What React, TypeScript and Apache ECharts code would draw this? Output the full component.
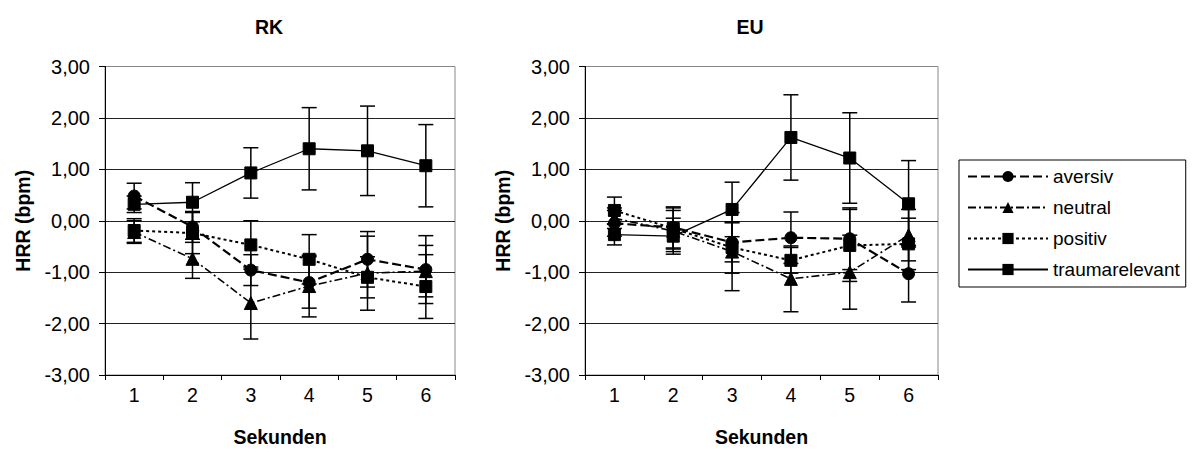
import React, { useEffect, useRef } from "react";
import * as echarts from "echarts";

const categories = ["1", "2", "3", "4", "5", "6"];
const seriesNames = ["aversiv", "neutral", "positiv", "traumarelevant"];
const chartTitles = ["RK", "EU"];
const yTicks = [-3, -2, -1, 0, 1, 2, 3];

// RK
const rkAversiv = [0.48, -0.12, -0.96, -1.2, -0.75, -0.95];
const rkAversivErr = [0.25, 0.3, 0.3, 0.5, 0.54, 0.66];
const rkNeutral = [-0.22, -0.74, -1.6, -1.27, -1.02, -0.98];
const rkNeutralErr = [0.22, 0.38, 0.7, 0.6, 0.72, 0.5];
const rkPositiv = [-0.19, -0.24, -0.47, -0.75, -1.1, -1.28];
const rkPositivErr = [0.23, 0.4, 0.47, 0.48, 0.4, 0.62];
const rkTrauma = [0.32, 0.36, 0.93, 1.4, 1.36, 1.07];
const rkTraumaErr = [0.16, 0.38, 0.49, 0.8, 0.87, 0.8];

// EU
const euAversiv = [-0.05, -0.13, -0.42, -0.33, -0.35, -1.03];
const euAversivErr = [0.25, 0.4, 0.38, 0.5, 0.6, 0.55];
const euNeutral = [0.05, -0.2, -0.6, -1.13, -1.0, -0.28];
const euNeutralErr = [0.2, 0.4, 0.76, 0.64, 0.72, 0.5];
const euPositiv = [0.2, -0.15, -0.52, -0.77, -0.48, -0.45];
const euPositivErr = [0.26, 0.4, 0.5, 0.25, 0.7, 0.5];
const euTrauma = [-0.27, -0.3, 0.22, 1.62, 1.22, 0.33];
const euTraumaErr = [0.2, 0.35, 0.53, 0.83, 0.88, 0.84];

const FONT = "'Liberation Sans', Arial, sans-serif";

const styles: Record<string, any> = {
  aversiv: { symbol: "circle", symbolSize: 12, lineStyle: { type: [9, 4], width: 2.2 } },
  neutral: { symbol: "triangle", symbolSize: 13, lineStyle: { type: [8, 3, 2, 3], width: 1.6 } },
  positiv: { symbol: "rect", symbolSize: 12, lineStyle: { type: [3, 3], width: 2 } },
  traumarelevant: { symbol: "rect", symbolSize: 12, lineStyle: { type: "solid", width: 1.3 } },
};

function lineSeries(name: string, values: number[], idx: number) {
  const s = styles[name];
  return {
    type: "line",
    name,
    xAxisIndex: idx,
    yAxisIndex: idx,
    data: values,
    symbol: s.symbol,
    symbolSize: s.symbolSize,
    itemStyle: { color: "#000", borderColor: "#000" },
    lineStyle: { color: "#000", ...s.lineStyle },
    z: 4,
    silent: true,
  };
}

function errSeries(values: number[], errs: number[], idx: number) {
  return {
    type: "custom",
    xAxisIndex: idx,
    yAxisIndex: idx,
    data: values.map((v, i) => [i, v - errs[i], v + errs[i]]),
    encode: { x: 0, y: [1, 2] },
    silent: true,
    z: 3,
    renderItem: (params: any, api: any) => {
      const x = api.value(0);
      const lo = api.coord([x, api.value(1)]);
      const hi = api.coord([x, api.value(2)]);
      const w = 7.5;
      const st = { stroke: "#000", lineWidth: 1.5 };
      return {
        type: "group",
        children: [
          { type: "line", shape: { x1: hi[0], y1: hi[1], x2: lo[0], y2: lo[1] }, style: st },
          { type: "line", shape: { x1: hi[0] - w, y1: hi[1], x2: hi[0] + w, y2: hi[1] }, style: st },
          { type: "line", shape: { x1: lo[0] - w, y1: lo[1], x2: lo[0] + w, y2: lo[1] }, style: st },
        ],
      };
    },
  };
}

const grids = [
  { left: 105, top: 66.5, width: 350, height: 308.5 },
  { left: 585, top: 66.5, width: 353, height: 308.5 },
];

export default function App() {
  const ref = useRef<HTMLDivElement>(null);
  useEffect(() => {
    document.body.style.margin = "0";
    const chart = echarts.init(ref.current!, null, { renderer: "svg" });
    const xAxes = grids.map((_, i) => ({
      type: "category",
      gridIndex: i,
      data: categories,
      boundaryGap: true,
      name: "Sekunden",
      nameLocation: "middle",
      nameGap: 52,
      nameTextStyle: { fontFamily: FONT, fontSize: 19.5, fontWeight: "bold", color: "#000" },
      axisLine: { onZero: false, lineStyle: { color: "#000", width: 1 } },
      axisTick: { show: true, length: 5, lineStyle: { color: "#000" } },
      axisLabel: { fontFamily: FONT, fontSize: 19.5, color: "#000", margin: 10 },
      splitLine: { show: false },
    }));
    const yAxes = grids.map((_, i) => ({
      type: "value",
      gridIndex: i,
      min: yTicks[0],
      max: yTicks[yTicks.length - 1],
      interval: 1,
      name: "HRR (bpm)",
      nameLocation: "middle",
      nameGap: 72,
      nameTextStyle: { fontFamily: FONT, fontSize: 19.5, fontWeight: "bold", color: "#000" },
      axisLine: { show: true, lineStyle: { color: "#000", width: 1 } },
      axisTick: { show: true, length: 6, lineStyle: { color: "#000" } },
      axisLabel: {
        fontFamily: FONT,
        fontSize: 20,
        color: "#000",
        margin: 15,
        formatter: (v: number) => v.toFixed(2).replace(".", ","),
      },
      splitLine: { show: true, showMinLine: false, showMaxLine: false, lineStyle: { color: "#222", width: 1 } },
    }));
    const series: any[] = [];
    const sets = [
      [
        [rkAversiv, rkAversivErr],
        [rkNeutral, rkNeutralErr],
        [rkPositiv, rkPositivErr],
        [rkTrauma, rkTraumaErr],
      ],
      [
        [euAversiv, euAversivErr],
        [euNeutral, euNeutralErr],
        [euPositiv, euPositivErr],
        [euTrauma, euTraumaErr],
      ],
    ];
    sets.forEach((set, gi) => {
      set.forEach(([vals, errs], si) => {
        series.push(errSeries(vals, errs, gi));
        series.push(lineSeries(seriesNames[si], vals, gi));
      });
    });
    chart.setOption({
      animation: false,
      backgroundColor: "#fff",
      title: [
        { text: chartTitles[0], left: 264, top: 12, textAlign: "center", textStyle: { fontFamily: FONT, fontSize: 19.5, fontWeight: "bold", color: "#000" } },
        { text: chartTitles[1], left: 745, top: 12, textAlign: "center", textStyle: { fontFamily: FONT, fontSize: 19.5, fontWeight: "bold", color: "#000" } },
      ],
      grid: grids.map((g) => ({ ...g, show: true, borderColor: "#888", borderWidth: 1, backgroundColor: "transparent" })),
      xAxis: xAxes,
      yAxis: yAxes,
      legend: {
        data: seriesNames,
        orient: "vertical",
        left: 959,
        top: 160,
        itemWidth: 80,
        itemHeight: 14,
        itemGap: 12,
        padding: [7, 6, 8, 8],
        borderColor: "#000",
        borderWidth: 1,
        textStyle: { fontFamily: FONT, fontSize: 19, color: "#000" },
        selectedMode: false,
      },
      series,
    });
    return () => chart.dispose();
  }, []);
  return <div ref={ref} style={{ width: 1192, height: 452 }} />;
}
